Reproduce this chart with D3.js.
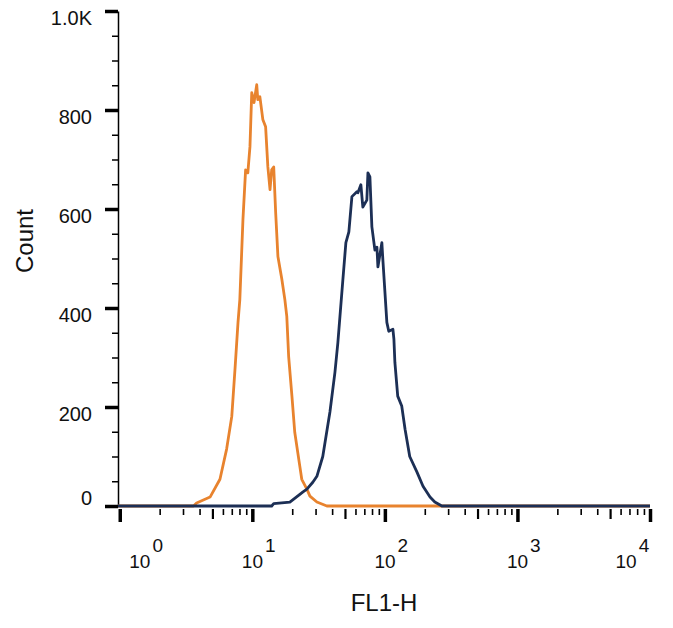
<!DOCTYPE html>
<html>
<head>
<meta charset="utf-8">
<script src="https://cdn.jsdelivr.net/npm/d3@7"></script>
<style>
  html, body { margin: 0; padding: 0; background: #fff; }
  svg { display: block; font-family: "Liberation Sans", Arial, sans-serif; }
</style>
</head>
<body>
<div id="chart"></div>
<script>
// Flow cytometry histogram, FL1-H vs Count

// Isotype control (orange)
const isotypeFL = [0.97, 3.6, 3.8, 4.8, 5.7, 6.4, 7.0, 7.4, 7.8, 8.05, 8.5, 8.9, 9.25, 9.6, 9.9, 10.3, 10.8, 11.0, 11.4, 12.0, 12.6, 13.1, 13.6, 14.0, 14.5, 15.0, 15.6, 16.7, 17.6, 18.2, 18.8, 19.9, 20.9, 22.8, 23.6, 25.8, 27.2, 30.7, 36.5, 10000];
const isotypeCount = [0, 0, 6, 18, 54, 115, 181, 276, 371, 417, 579, 679, 673, 726, 835, 815, 851, 821, 827, 781, 766, 685, 639, 679, 685, 593, 504, 458, 417, 383, 302, 222, 149, 81, 54, 34, 20, 8, 0, 0];

// Stained sample (navy)
const stainedFL = [0.97, 14.0, 14.5, 19.2, 24.0, 25.8, 28.6, 30.7, 34.0, 38.5, 42.0, 44.2, 48.2, 50.8, 53.5, 56.4, 61.5, 62.6, 65.9, 68.2, 73.1, 74.5, 77.1, 79.8, 84.1, 87.1, 88.6, 94.9, 96.6, 103.5, 107, 115, 117, 119, 125, 134, 142, 154, 175, 194, 219, 238, 269, 10000];
const stainedCount = [0, 0, 5, 8, 28, 34, 48, 60, 100, 190, 270, 330, 457, 532, 554, 625, 635, 633, 649, 604, 618, 673, 665, 564, 517, 523, 483, 532, 497, 371, 353, 357, 337, 290, 222, 202, 155, 100, 68, 40, 18, 8, 0, 0];

// Axis ticks
const yMajorTicks = [0, 200, 400, 600, 800, 1000];
const yMinorTicks = [50, 100, 150, 250, 300, 350, 450, 500, 550, 650, 700, 750, 850, 900, 950];
const yTickLabels = ['0', '200', '400', '600', '800', '1.0K'];
const xDecades = [1, 10, 100, 1000, 10000];
const xExponents = ['0', '1', '2', '3', '4'];

document.addEventListener('DOMContentLoaded', () => {
  drawHistogram();
});

function drawHistogram() {
  const width = 673;
  const height = 628;

  const svg = d3.select('#chart')
    .append('svg')
    .attr('width', width)
    .attr('height', height);

  const x = d3.scaleLog()
    .domain([0.97, 10000])
    .range([118, 650]);

  const y = d3.scaleLinear()
    .domain([0, 1000])
    .range([506, 11]);

  // Y axis: minor ticks first, then majors with domain line
  svg.append('g')
    .attr('transform', 'translate(118,0)')
    .call(d3.axisLeft(y).tickValues(yMinorTicks).tickSize(6).tickFormat(''))
    .call(g => g.select('.domain').remove())
    .call(g => g.selectAll('.tick line').attr('stroke', '#000').attr('stroke-width', 1.5));

  const yAxis = svg.append('g')
    .attr('transform', 'translate(118,0)')
    .call(d3.axisLeft(y).tickValues(yMajorTicks).tickSize(13).tickSizeOuter(0).tickFormat(''));

  yAxis.select('.domain')
    .attr('stroke', '#000')
    .attr('stroke-width', 1.5);

  yAxis.selectAll('.tick line')
    .attr('stroke', '#000')
    .attr('stroke-width', 3.5);

  svg.append('g')
    .selectAll('text')
    .data(yMajorTicks)
    .enter().append('text')
    .attr('x', 92)
    .attr('y', (d, i) => y(d) + (i === 0 ? -1 : 14))
    .attr('text-anchor', 'end')
    .attr('font-size', '20px')
    .attr('fill', '#111')
    .text((d, i) => yTickLabels[i]);

  // X axis: minor, mid (5x) and decade ticks, no domain line
  const minor = [];
  const mid = [];
  xDecades.slice(0, -1).forEach(dec => {
    for (let k = 2; k <= 9; k++) {
      if (k === 5) mid.push(dec * k);
      else minor.push(dec * k);
    }
  });

  const xg = svg.append('g').attr('transform', 'translate(0,509)');

  xg.append('g')
    .call(d3.axisBottom(x).tickValues(minor).tickSize(6).tickFormat(''))
    .call(g => g.select('.domain').remove())
    .call(g => g.selectAll('.tick line').attr('stroke', '#000').attr('stroke-width', 1.6));

  xg.append('g')
    .call(d3.axisBottom(x).tickValues(mid).tickSize(10).tickFormat(''))
    .call(g => g.select('.domain').remove())
    .call(g => g.selectAll('.tick line').attr('stroke', '#000').attr('stroke-width', 2.2));

  xg.append('g')
    .call(d3.axisBottom(x).tickValues(xDecades).tickSize(13).tickFormat(''))
    .call(g => g.select('.domain').remove())
    .call(g => g.selectAll('.tick line').attr('stroke', '#000').attr('stroke-width', 3.5));

  // Decade labels as 10 with raised exponent; ends pulled inward
  const last = xDecades.length - 1;
  const labels = svg.append('g')
    .selectAll('text')
    .data(xDecades)
    .enter().append('text')
    .attr('x', (d, i) => x(d) - 10.5 + (i === 0 ? 20 : i === last ? -24 : 0))
    .attr('y', 568)
    .attr('text-anchor', 'start')
    .attr('font-size', '19px')
    .attr('fill', '#111');

  labels.append('tspan')
    .text('10');

  labels.append('tspan')
    .attr('dx', '2')
    .attr('dy', '-16')
    .text((d, i) => xExponents[i]);

  // Axis titles
  svg.append('text')
    .attr('transform', 'translate(33,241) rotate(-90)')
    .attr('text-anchor', 'middle')
    .attr('font-size', '24px')
    .attr('fill', '#111')
    .text('Count');

  svg.append('text')
    .attr('x', 384)
    .attr('y', 611)
    .attr('text-anchor', 'middle')
    .attr('font-size', '24px')
    .attr('fill', '#111')
    .text('FL1-H');

  // Histogram lines
  const line = d3.line()
    .x(d => x(d[0]))
    .y(d => y(d[1]));

  const isotype = isotypeFL.map((v, i) => [v, isotypeCount[i]]);
  const stained = stainedFL.map((v, i) => [v, stainedCount[i]]);

  svg.append('path')
    .datum(isotype)
    .attr('d', line)
    .attr('fill', 'none')
    .attr('stroke', '#e8832e')
    .attr('stroke-width', 2.8)
    .attr('stroke-linejoin', 'round');

  svg.append('path')
    .datum(stained)
    .attr('d', line)
    .attr('fill', 'none')
    .attr('stroke', '#1c2f55')
    .attr('stroke-width', 2.8)
    .attr('stroke-linejoin', 'round');
}
</script>
</body>
</html>
